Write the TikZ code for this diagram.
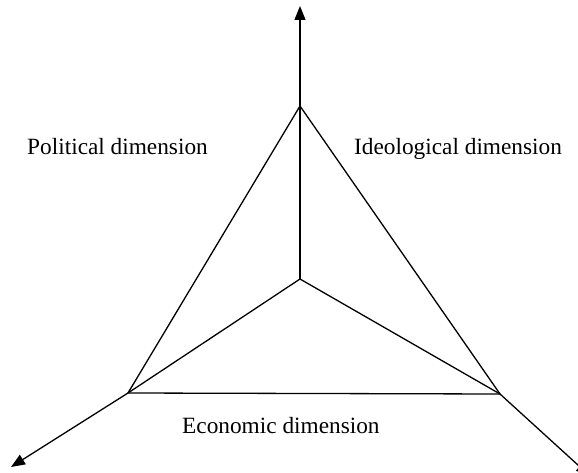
\documentclass[tikz,border=0pt]{standalone}
\usepackage{fontspec}
\setmainfont{Liberation Serif}
\usetikzlibrary{arrows.meta}
\tikzset{
  edge/.style={line width=1.3pt, line cap=round, line join=round},
  axis/.style={edge, -{Triangle[length=14pt,width=11pt]}},
  lbl/.style={inner sep=0pt, font=\fontsize{23.3}{28}\selectfont}
}
\begin{document}
\begin{tikzpicture}[x=1pt,y=-1pt]
\useasboundingbox (0,0) rectangle (578,473);
\clip (0,0) rectangle (578,473);
\coordinate (C) at (300,279);
\coordinate (A) at (300,106);
\coordinate (T) at (300,6);
\coordinate (L) at (128,393);
\coordinate (LT) at (11,467);
\coordinate (R) at (500,394);
\coordinate (RT) at (590,476);
\draw[axis] (C) -- (T);
\draw[axis] (C) -- (L) -- (LT);
\draw[axis] (C) -- (R) -- (RT);
\draw[edge] (A) -- (L) -- (R) -- cycle;
\node[lbl, anchor=base east] (pol) at (208,155) {Political dimension};
\node[lbl, anchor=base west] (ideo) at (354,155) {Ideological dimension};
\node[lbl, anchor=base west] (eco) at (182,433) {Economic dimension};
\end{tikzpicture}
\end{document}
